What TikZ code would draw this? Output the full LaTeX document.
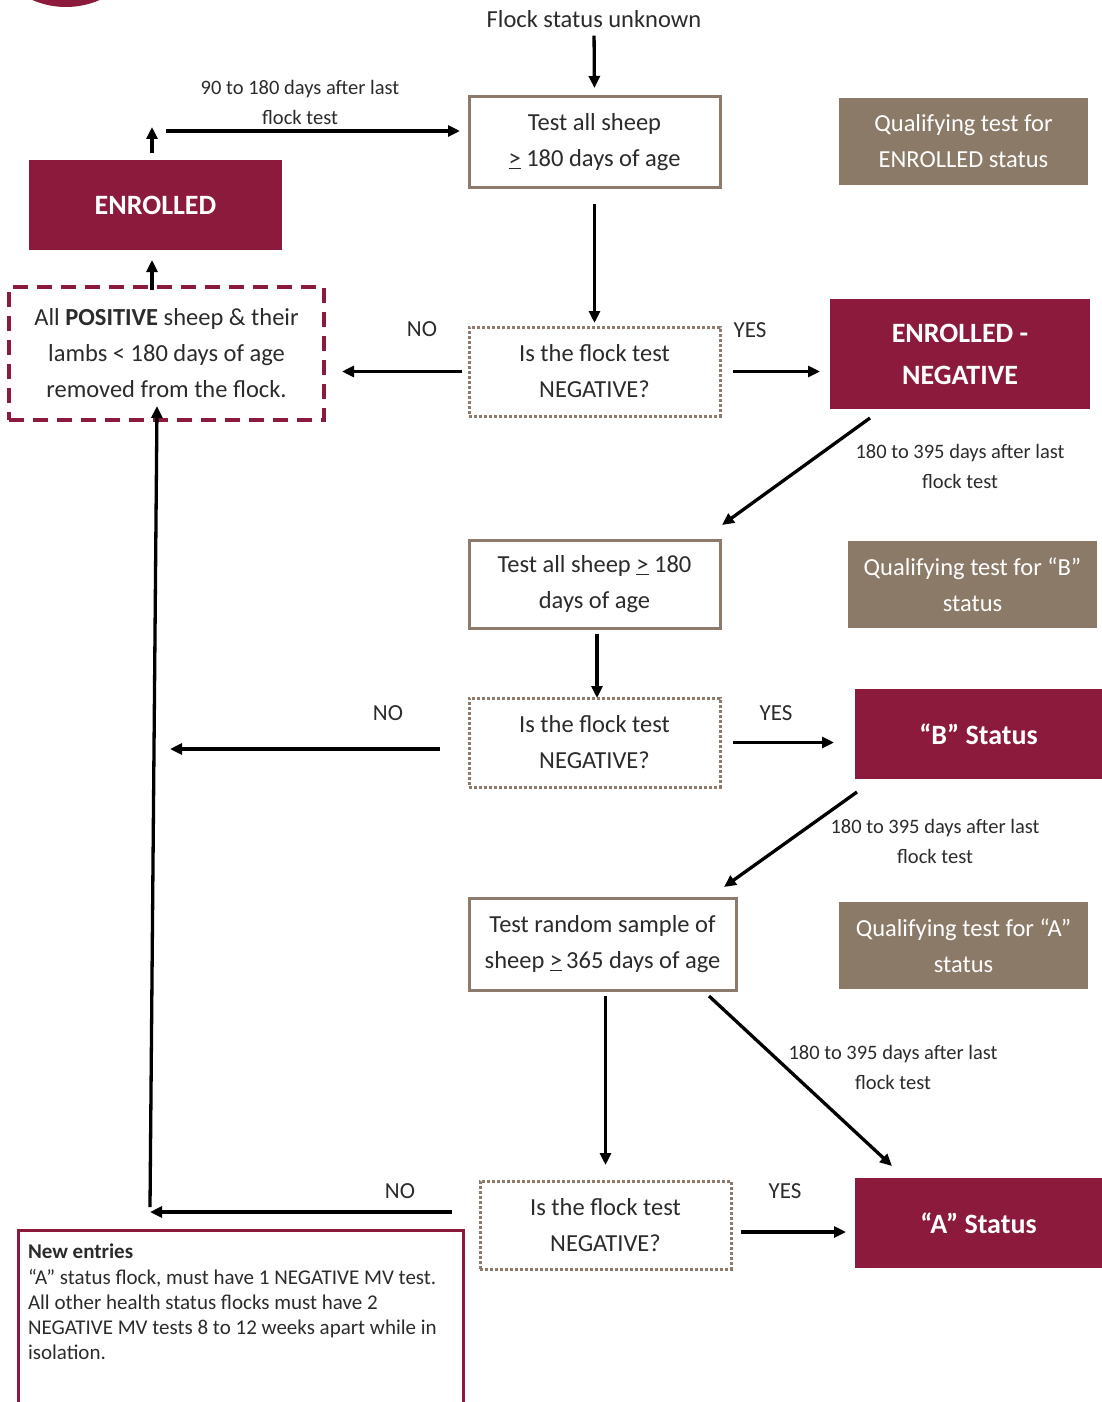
\documentclass[tikz,border=0pt]{standalone}
\usepackage{fontspec}
\setmainfont{Carlito}
\usetikzlibrary{arrows.meta,calc}
\definecolor{maroon}{HTML}{8B1A3C}
\definecolor{taupe}{HTML}{8B7A68}
\definecolor{taupeline}{HTML}{8C7B6C}
\definecolor{txt}{HTML}{2B2B2B}
\begin{document}
\begin{tikzpicture}[x=1pt,y=-1pt,
  every node/.style={inner sep=0pt, outer sep=0pt},
  maintext/.style={font=\fontsize{24.5}{36}\selectfont, align=center, text=txt},
  testbox/.style={maintext, draw=taupeline, line width=3pt, fill=white},
  decbox/.style={maintext, draw=taupeline, line width=3pt, dash pattern=on 3pt off 2pt},
  qualbox/.style={maintext, fill=taupe, text=white},
  statbox/.style={fill=maroon, text=white, font=\bfseries\fontsize{28}{42}\selectfont, align=center},
  lbl/.style={font=\fontsize{20.5}{30}\selectfont, align=center, text=txt},
  yn/.style={font=\fontsize{23}{26}\selectfont, text=txt},
  arr/.style={line width=3.3pt, -{Triangle[length=12pt,width=11pt]}},
]
\useasboundingbox (0,0) rectangle (1102,1402);
\clip (0,0) rectangle (1102,1402);
\fill[maroon] (66,-77) circle (84);

% nodes
\node[maintext] (start) at (594,19) {Flock status unknown};
\node[testbox, minimum width=251pt, minimum height=90pt] (t1) at (594.5,142) {Test all sheep\\\underline{>} 180 days of age};
\node[qualbox, minimum width=249pt, minimum height=87pt] (q1) at (963.5,141.5) {Qualifying test for\\ENROLLED status};
\node[decbox, minimum width=251pt, minimum height=89pt] (d1) at (594.5,371.5) {Is the flock test\\NEGATIVE?};
\node[statbox, minimum width=260pt, minimum height=110pt] (en) at (960,354) {ENROLLED -\\NEGATIVE};
\node[maintext, draw=maroon, line width=3.5pt, dash pattern=on 15pt off 9pt, minimum width=315pt, minimum height=133pt] (pos) at (166.5,353.5) {All \textbf{POSITIVE} sheep \& their\\lambs < 180 days of age\\removed from the flock.};
\node[statbox, minimum width=253pt, minimum height=90pt] (enr) at (155.5,205) {ENROLLED};
\node[testbox, minimum width=251pt, minimum height=88pt] (t2) at (594.5,584) {Test all sheep \underline{>} 180\\days of age};
\node[qualbox, minimum width=249pt, minimum height=87pt] (q2) at (972.5,584.5) {Qualifying test for “B”\\status};
\node[decbox, minimum width=251pt, minimum height=89pt] (d2) at (594.5,742.5) {Is the flock test\\NEGATIVE?};
\node[statbox, minimum width=247pt, minimum height=90pt] (bs) at (978.5,734) {“B” Status};
\node[testbox, minimum width=267pt, minimum height=92pt] (t3) at (602.5,944) {Test random sample of\\sheep \underline{>}\,365 days of age};
\node[qualbox, minimum width=249pt, minimum height=87pt] (q3) at (963.5,945.5) {Qualifying test for “A”\\status};
\node[decbox, minimum width=251pt, minimum height=88pt] (d3) at (605.5,1225) {Is the flock test\\NEGATIVE?};
\node[statbox, minimum width=247pt, minimum height=90pt] (as) at (978.5,1223) {“A” Status};
\node[draw=maroon, line width=3pt, minimum width=445pt, minimum height=190pt] (ne) at (240.5,1325) {};
\node[anchor=north west, align=left, font=\fontsize{21}{25.3}\selectfont, text=txt] (netext) at (28,1244) {\textbf{New entries}\\“A” status flock, must have 1 NEGATIVE MV test.\\All other health status flocks must have 2\\NEGATIVE MV tests 8 to 12 weeks apart while in\\isolation.};

% labels
\node[lbl] (l90) at (300,102) {90 to 180 days after last\\flock test};
\node[lbl] (lab1) at (960,466) {180 to 395 days after last\\flock test};
\node[lbl] (lab2) at (935,841) {180 to 395 days after last\\flock test};
\node[lbl] (lab3) at (893,1067) {180 to 395 days after last\\flock test};
\node[yn] (no1) at (422,329) {NO};
\node[yn] (yes1) at (750,330) {YES};
\node[yn] (no2) at (388,713) {NO};
\node[yn] (yes2) at (776,713) {YES};
\node[yn] (no3) at (400,1191) {NO};
\node[yn] (yes3) at (785,1191) {YES};

% connectors
\draw[arr, shorten <=8pt, shorten >=9pt] (start.south) -- (t1.north);
\draw[arr, shorten <=17pt, shorten >=4pt] (t1.south) -- (d1.north);
\draw[arr, shorten <=13pt, shorten >=10pt] (d1.east) -- (d1.east -| en.west);
\draw[arr, shorten <=7pt, shorten >=18pt] (d1.west) -- (d1.west -| pos.east);
\coordinate (colx) at (152,0);
\draw[arr, shorten <=-3pt, shorten >=10pt] (pos.north -| colx) -- (enr.south -| colx);
\coordinate (upend) at (152,127);
\draw[arr, shorten <=7pt] (enr.north -| colx) -- (upend);
\coordinate (loopL) at (166,131);
\draw[arr, shorten >=9pt] (loopL) -- (loopL -| t1.west);
\draw[arr] ([shift={(-90,9)}]en.south) -- ([shift={(2,-15)}]t2.north east);
\draw[arr, shorten <=6pt] ([shift={(2.5,0)}]t2.south) -- ([shift={(2.5,0)}]d2.north);
\draw[arr, shorten <=13pt, shorten >=21pt] (d2.east) -- (d2.east -| bs.west);
\coordinate (noB) at (170,749);
\draw[arr, shorten <=29pt] (d2.west |- noB) -- (noB);
\draw[arr] ([shift={(2,13)}]bs.south west) -- ([shift={(-12,-11)}]t3.north east);
\draw[arr, shorten <=6pt, shorten >=16pt] (d3.north |- t3.south) -- (d3.north);
\draw[arr] ([shift={(-27,6)}]t3.south east) -- ([shift={(37,-12)}]as.north west);
\draw[arr, shorten <=10pt, shorten >=9pt] ([shift={(0,7)}]d3.east) -- ([shift={(0,7)}]d3.east -| as.west);
\coordinate (corner) at (150,1212);
\draw[arr, shorten <=28pt] (d3.west |- corner) -- (corner);
\draw[arr] ([shift={(0,-5)}]corner) -- ([shift={(-9.5,-14)}]pos.south);
\end{tikzpicture}
\end{document}
